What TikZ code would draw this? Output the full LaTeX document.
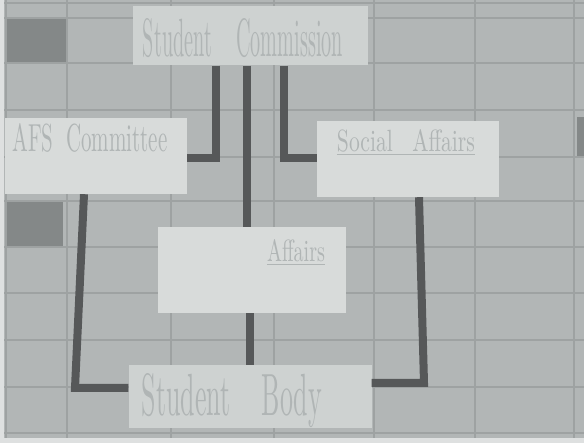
\documentclass[tikz,border=0pt]{standalone}
\usepackage{graphicx}
\definecolor{wall}{RGB}{178,182,182}
\definecolor{grout}{RGB}{158,162,162}
\definecolor{darktile}{RGB}{132,136,136}
\definecolor{card}{RGB}{206,210,209}
\definecolor{cardlight}{RGB}{216,219,218}
\definecolor{tape}{RGB}{86,88,89}
\definecolor{ink}{RGB}{176,181,181}
\definecolor{edge}{RGB}{222,224,224}
\begin{document}
\begin{tikzpicture}[x=1pt,y=-1pt,
  cardbox/.style={fill=card, draw=none, inner sep=0pt, rectangle},
  cardtext/.style={inner sep=0pt, text=ink},
  tapeline/.style={draw=tape, line width=8pt, line cap=butt, line join=miter},
  groutline/.style={draw=grout, line width=1.5pt}]
% wall
\fill[wall] (0,0) rectangle (584,443);
\useasboundingbox (0,0) rectangle (584,443);
\fill[darktile] (6,18) rectangle (67,63);
\fill[darktile] (6,201) rectangle (63,247);
\fill[darktile] (577,117) rectangle (584,157);
\foreach \yy in {3,18,63,110,157,201,247,293,340,387,433}
  \draw[groutline] (0,\yy) -- (584,\yy);
\foreach \xx in {6,67,171,274,374,475,574}
  \draw[groutline] (\xx,0) -- (\xx,443);
\fill[edge] (0,0) rectangle (4,443);
\fill[edge] (0,438) rectangle (584,443);
% cards
\node[cardbox, minimum width=235pt, minimum height=59pt] (comm) at (250,36) {};
\node[cardbox, fill=cardlight, minimum width=182pt, minimum height=76pt] (afs) at (96,156) {};
\node[cardbox, fill=cardlight, minimum width=182pt, minimum height=76pt] (soc) at (408,159) {};
\node[cardbox, fill=cardlight, minimum width=188pt, minimum height=86pt] (mid) at (252,270) {};
\node[cardbox, minimum width=243pt, minimum height=63pt] (body) at (250,397) {};
% texts
\node[cardtext] (commtext) at (243,38) {\resizebox{200pt}{38pt}{Student\hspace{1.2em}Commission}};
\node[cardtext] (afstext) at (90,138) {\resizebox{155pt}{28pt}{AFS\hspace{0.6em}Committee}};
\node[cardtext] (soctext) at (406,141) {\resizebox{138pt}{22pt}{Social\hspace{0.9em}Affairs}};
\node[cardtext] (midtext) at (296,251) {\resizebox{58pt}{22pt}{Affairs}};
\node[cardtext] (bodytext) at (232,401) {\resizebox{180pt}{42pt}{Student\hspace{1.2em}Body}};
\draw[ink, line width=0.7pt] ([yshift=-2pt]soctext.south west) -- ([yshift=-2pt]soctext.south east);
\draw[ink, line width=0.7pt] ([yshift=-2pt]midtext.south west) -- ([yshift=-2pt]midtext.south east);
% connectors
\coordinate (j1) at (216,158);
\coordinate (j2) at (284,158);
\coordinate (j3) at (247,120);
\coordinate (j4) at (250,340);
\coordinate (aT) at (84,250);
\coordinate (aB) at (75,388);
\coordinate (sT) at (419,250);
\coordinate (sB) at (424,383);
\draw[tapeline] (j1 |- comm.south) -- (j1) -- (j1 -| afs.east);
\draw[tapeline] (j2 |- comm.south) -- (j2) -- (j2 -| soc.west);
\draw[tapeline] (j3 |- comm.south) -- (j3 |- mid.north);
\draw[tapeline] (j4 |- mid.south) -- (j4 |- body.north);
\draw[tapeline] (aT |- afs.south) -- (aB) -- (aB -| body.west);
\draw[tapeline] (sT |- soc.south) -- (sB) -- (sB -| body.east);
\end{tikzpicture}
\end{document}
